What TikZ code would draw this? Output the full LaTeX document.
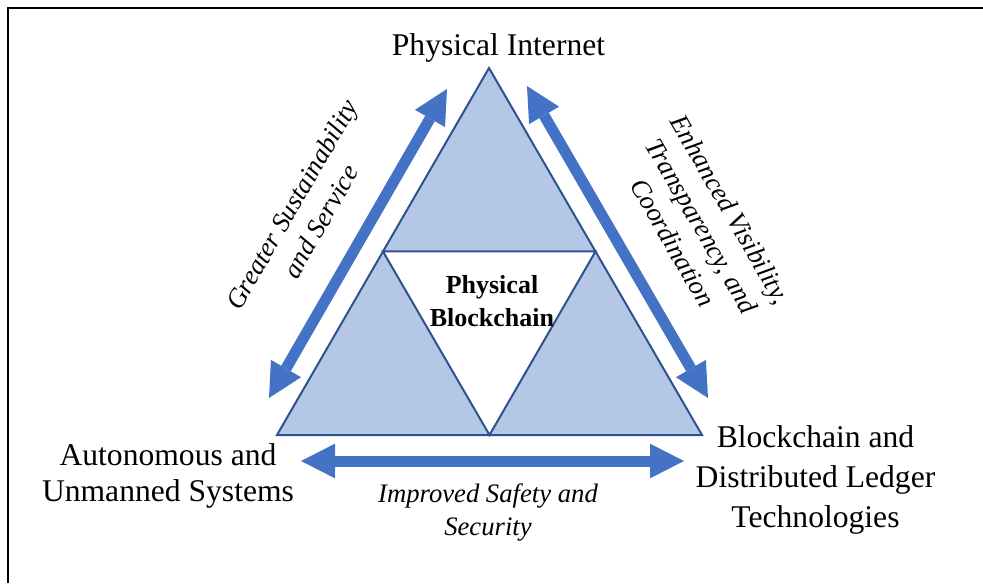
\documentclass[tikz,border=0pt]{standalone}
\usepackage{fontspec}
\setmainfont{Liberation Serif}
\usetikzlibrary{arrows.meta,calc}

\definecolor{pbfill}{HTML}{B4C7E7}
\definecolor{pbedge}{HTML}{2F528F}
\definecolor{pbarrow}{HTML}{4472C4}

\begin{document}
\begin{tikzpicture}[x=0.75pt, y=0.75pt,
    corner/.style={font=\fontsize{23.7}{27.5}\selectfont, align=center, inner sep=0pt},
    link/.style={font=\fontsize{20}{25}\selectfont\itshape, align=center, inner sep=0pt},
    piece/.style={draw=pbedge, line width=1.5pt, line join=miter},
    bigarrow/.style={pbarrow, line width=8.25pt,
      {Triangle[length=25.5pt,width=26pt,line width=0pt]}-{Triangle[length=25.5pt,width=26pt,line width=0pt]}}]
    \useasboundingbox (0,0) rectangle (983,583);
    \draw[line width=1.1pt] (8,0) -- (8,575) -- (983,575);

    % the triangle and its white middle
    \coordinate (top) at (489,515);
    \coordinate (left) at (277,148);
    \coordinate (right) at (702,148);
    \draw[piece, fill=pbfill] (top) -- (left) -- (right) -- cycle;
    \draw[piece, fill=white] ($(top)!0.5!(left)$) -- ($(top)!0.5!(right)$) -- ($(left)!0.5!(right)$) -- cycle;

    \node[font=\fontsize{19.5}{24.75}\selectfont\bfseries, align=center, inner sep=0pt] (pb) at (492,282.3) {Physical\\Blockchain};

    % the three corners
    \node[corner, anchor=base] (pi) at (498.5,527) {Physical Internet};
    \node[corner] (aus) at (168,107) {Autonomous and\\Unmanned Systems};
    \node[corner, font=\fontsize{23.7}{30}\selectfont] (dlt) at (815.5,103.4) {Blockchain and\\Distributed Ledger\\Technologies};

    % double arrows along the sides
    \coordinate (gs1) at (269,185);
    \coordinate (gs2) at (447,494);
    \coordinate (ev1) at (527,497);
    \coordinate (ev2) at (708,185);
    \coordinate (is1) at (301,122);
    \coordinate (is2) at (684,122);
    \draw[bigarrow] (gs1) -- (gs2);
    \draw[bigarrow] (ev1) -- (ev2);
    \draw[bigarrow] (is1) -- (is2);

    \node[link, rotate=60] (gss) at (306,370) {Greater Sustainability\\and Service};
    \node[link, rotate=-60] (evt) at (702,357) {Enhanced Visibility,\\Transparency, and\\Coordination};
    \node[link] (iss) at (488,70.7) {Improved Safety and\\Security};
\end{tikzpicture}
\end{document}
